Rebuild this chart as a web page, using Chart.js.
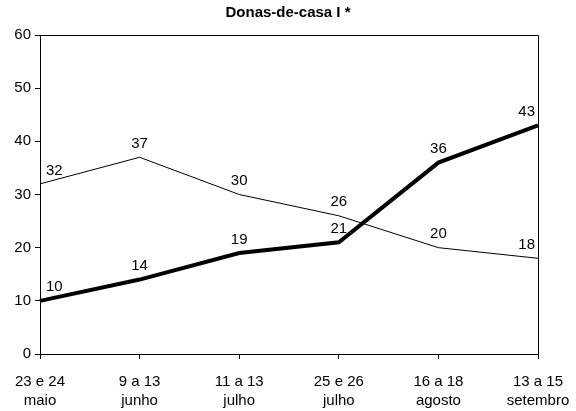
<!DOCTYPE html>
<html lang="pt">
<head>
<meta charset="UTF-8">
<title>Donas-de-casa I</title>
<script src="https://cdn.jsdelivr.net/npm/chart.js"></script>
<style>
  body { margin: 0; background: #fff; }
  #wrap { width: 576px; height: 411px; }
</style>
</head>
<body>
<div id="wrap"><canvas id="chart" width="576" height="411"></canvas></div>
<script>
// data
const categories = [
  ['23 e 24', 'maio'],
  ['9 a 13', 'junho'],
  ['11 a 13', 'julho'],
  ['25 e 26', 'julho'],
  ['16 a 18', 'agosto'],
  ['13 a 15', 'setembro']
];
const thinSeries = [32, 37, 30, 26, 20, 18];
const thickSeries = [10, 14, 19, 21, 36, 43];
const yTicks = [0, 10, 20, 30, 40, 50, 60];

const FONT = 'Liberation Sans, Arial, sans-serif';

// draws value labels above each point, kept inside the plot box
const pointLabels = {
  id: 'pointLabels',
  afterDatasetsDraw(chart) {
    const ctx = chart.ctx;
    const area = chart.chartArea;
    ctx.save();
    ctx.font = '15px ' + FONT;
    ctx.fillStyle = '#000';
    ctx.textBaseline = 'bottom';
    chart.data.datasets.forEach((ds, i) => {
      chart.getDatasetMeta(i).data.forEach((pt, j) => {
        const txt = String(ds.data[j]);
        const w = ctx.measureText(txt).width;
        let x = pt.x - w / 2;
        if (x < area.left + 6) x = area.left + 6;
        if (x + w > area.right - 3) x = area.right - 3 - w;
        ctx.textAlign = 'left';
        ctx.fillText(txt, x, pt.y - 6);
      });
    });
    ctx.restore();
  }
};

// frame on top and right of the plot
const frame = {
  id: 'frame',
  beforeDatasetsDraw(chart) {
    const { ctx, chartArea: a } = chart;
    ctx.save();
    ctx.strokeStyle = '#000';
    ctx.lineWidth = 1;
    ctx.beginPath();
    ctx.moveTo(a.left, a.top + 0.5);
    ctx.lineTo(a.right + 0.5, a.top + 0.5);
    ctx.lineTo(a.right + 0.5, a.bottom);
    ctx.stroke();
    ctx.restore();
  }
};

new Chart(document.getElementById('chart').getContext('2d'), {
  type: 'line',
  data: {
    labels: categories,
    datasets: [
      {
        label: 'serie 1',
        data: thinSeries,
        borderColor: '#000',
        borderWidth: 1,
        pointRadius: 0,
        tension: 0
      },
      {
        label: 'serie 2',
        data: thickSeries,
        borderColor: '#000',
        borderWidth: 4,
        pointRadius: 0,
        tension: 0
      }
    ]
  },
  options: {
    responsive: false,
    animation: false,
    layout: { padding: 0 },
    plugins: {
      legend: { display: false },
      tooltip: { enabled: false },
      title: {
        display: true,
        text: 'Donas-de-casa I *',
        color: '#000',
        font: { family: FONT, size: 15, weight: 'bold' },
        padding: { top: 4, bottom: 13 }
      }
    },
    scales: {
      x: {
        type: 'category',
        offset: false,
        border: { color: '#000', width: 1 },
        grid: { drawOnChartArea: false, color: '#000', tickLength: 5 },
        ticks: {
          color: '#000',
          font: { family: FONT, size: 15, lineHeight: 1.3 },
          maxRotation: 0,
          autoSkip: false,
          padding: 13
        },
        afterFit(scale) {
          scale.height = 57;
          scale.paddingLeft = 0;
          scale.paddingRight = 38;
        }
      },
      y: {
        min: 0,
        max: 60,
        border: { color: '#000', width: 1 },
        grid: { drawOnChartArea: false, color: '#000', tickLength: 5 },
        afterBuildTicks(scale) { scale.ticks = yTicks.map(v => ({ value: v })); },
        ticks: {
          color: '#000',
          font: { family: FONT, size: 15 },
          padding: 4
        },
        afterFit(scale) { scale.width = 40; }
      }
    }
  },
  plugins: [pointLabels, frame]
});
</script>
</body>
</html>
